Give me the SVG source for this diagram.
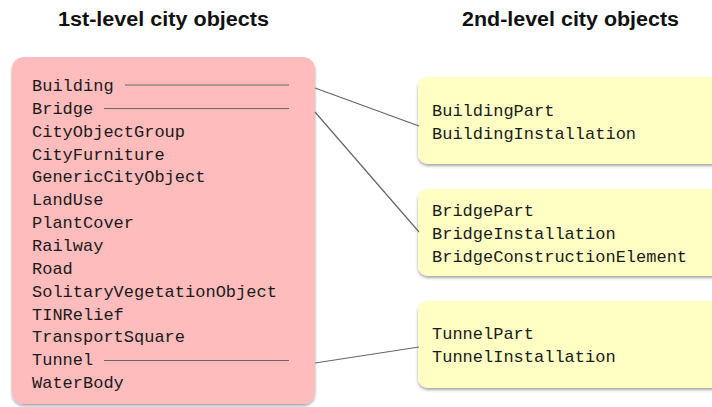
<svg xmlns="http://www.w3.org/2000/svg" width="712" height="407" viewBox="0 0 712 407">
<defs>
<filter id="sh" x="-10%" y="-10%" width="130%" height="130%">
<feDropShadow dx="0" dy="2" stdDeviation="1.5" flood-color="#000" flood-opacity="0.35"/>
</filter>
<style>
.title{font-family:"Liberation Sans",Arial,sans-serif;font-weight:bold;font-size:19.5px;fill:#111;text-anchor:middle}
.mono{font-family:"Liberation Mono","DejaVu Sans Mono",monospace;font-size:17px;fill:#1a1a1a}
.pink{fill:#ffbcbc;filter:url(#sh)}
.yel{fill:#ffffc4;filter:url(#sh)}
.conn{stroke:#666;stroke-width:1.2;fill:none}
</style>
</defs>
<rect width="712" height="407" fill="#fff"/>
<text class="title" x="163.5" y="26" textLength="211" lengthAdjust="spacingAndGlyphs">1st-level city objects</text>
<text class="title" x="570.5" y="26" textLength="217" lengthAdjust="spacingAndGlyphs">2nd-level city objects</text>
<g id="first-level">
<rect class="pink" x="12" y="57" width="303" height="347" rx="12"/>
<text class="mono" x="32" y="91">Building</text>
<text class="mono" x="32" y="113.85">Bridge</text>
<text class="mono" x="32" y="136.7">CityObjectGroup</text>
<text class="mono" x="32" y="159.55">CityFurniture</text>
<text class="mono" x="32" y="182.4">GenericCityObject</text>
<text class="mono" x="32" y="205.25">LandUse</text>
<text class="mono" x="32" y="228.1">PlantCover</text>
<text class="mono" x="32" y="250.95">Railway</text>
<text class="mono" x="32" y="273.8">Road</text>
<text class="mono" x="32" y="296.65">SolitaryVegetationObject</text>
<text class="mono" x="32" y="319.5">TINRelief</text>
<text class="mono" x="32" y="342.35">TransportSquare</text>
<text class="mono" x="32" y="365.2">Tunnel</text>
<text class="mono" x="32" y="388.05">WaterBody</text>
</g>
<g id="building-children">
<rect class="yel" x="418" y="77" width="310" height="87" rx="10"/>
<text class="mono" x="432" y="116">BuildingPart</text>
<text class="mono" x="432" y="139">BuildingInstallation</text>
</g>
<g id="bridge-children">
<rect class="yel" x="418" y="189" width="310" height="87" rx="10"/>
<text class="mono" x="432" y="216">BridgePart</text>
<text class="mono" x="432" y="239">BridgeInstallation</text>
<text class="mono" x="432" y="262">BridgeConstructionElement</text>
</g>
<g id="tunnel-children">
<rect class="yel" x="418" y="301" width="310" height="87" rx="10"/>
<text class="mono" x="432" y="339">TunnelPart</text>
<text class="mono" x="432" y="362">TunnelInstallation</text>
</g>
<g id="connectors">
<line class="conn" x1="125" y1="85" x2="289" y2="85"/>
<line class="conn" x1="104" y1="108.5" x2="289" y2="108.5"/>
<line class="conn" x1="104" y1="360.5" x2="289" y2="360.5"/>
<line class="conn" x1="315" y1="88" x2="419" y2="126"/>
<line class="conn" x1="315" y1="112" x2="419" y2="232"/>
<line class="conn" x1="315" y1="363" x2="419" y2="347"/>
</g>
</svg>
